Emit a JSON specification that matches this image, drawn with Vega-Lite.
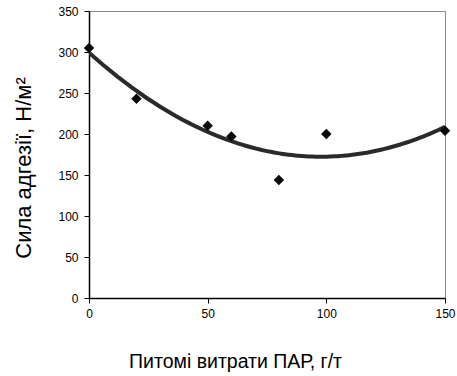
{
  "$schema": "https://vega.github.io/schema/vega-lite/v6.json",
  "width": 356,
  "height": 287,
  "autosize": "none",
  "padding": {"left": 89, "top": 11, "right": 12, "bottom": 78},
  "background": "white",
  "config": {
    "font": "Liberation Sans",
    "view": {"stroke": "#8c8c8c", "strokeWidth": 1}
  },
  "data": {
    "values": [
      {"x": 0, "y": 305},
      {"x": 20, "y": 243},
      {"x": 50, "y": 210},
      {"x": 60, "y": 197},
      {"x": 80, "y": 144},
      {"x": 100, "y": 200},
      {"x": 150, "y": 204}
    ]
  },
  "layer": [
    {
      "transform": [
        {"regression": "y", "on": "x", "method": "poly", "order": 2, "extent": [0, 150]}
      ],
      "mark": {"type": "line", "color": "#2a2a2a", "strokeWidth": 4, "clip": true},
      "encoding": {
        "x": {"field": "x", "type": "quantitative"},
        "y": {"field": "y", "type": "quantitative"}
      }
    },
    {
      "mark": {"type": "point", "shape": "diamond", "filled": true, "color": "#0a0a0a", "size": 110, "opacity": 1},
      "encoding": {
        "x": {
          "field": "x",
          "type": "quantitative",
          "scale": {"domain": [0, 150], "nice": false, "zero": true},
          "axis": {
            "values": [0, 50, 100, 150],
            "grid": false,
            "domainColor": "#000",
            "domainWidth": 1.5,
            "tickColor": "#000",
            "tickSize": 5,
            "labelFontSize": 12,
            "labelColor": "#000",
            "labelPadding": 5,
            "labelFlush": false,
            "title": "Питомі витрати ПАР, г/т",
            "titleFontSize": 19.5,
            "titleFontWeight": "normal",
            "titleColor": "#000",
            "titleX": 146,
            "titleY": 69,
            "titleAlign": "center",
            "titleBaseline": "alphabetic"
          }
        },
        "y": {
          "field": "y",
          "type": "quantitative",
          "scale": {"domain": [0, 350], "nice": false},
          "axis": {
            "values": [0, 50, 100, 150, 200, 250, 300, 350],
            "grid": false,
            "domainColor": "#000",
            "domainWidth": 1.5,
            "tickColor": "#000",
            "tickSize": 5,
            "labelFontSize": 12,
            "labelColor": "#000",
            "labelPadding": 6,
            "title": "Сила адгезії, Н/м²",
            "titleFontSize": 22,
            "titleFontWeight": "normal",
            "titleColor": "#000",
            "titleX": -59,
            "titleY": 156.5,
            "titleAngle": -90,
            "titleAlign": "center",
            "titleBaseline": "alphabetic"
          }
        }
      }
    }
  ]
}
